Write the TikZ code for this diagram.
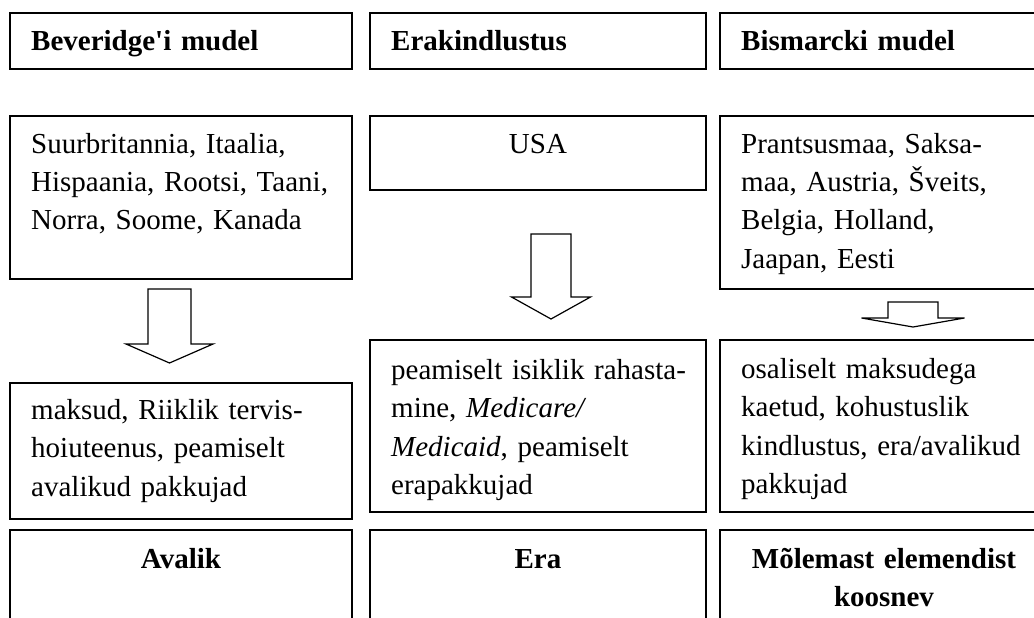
\documentclass[tikz,border=0pt]{standalone}
\usepackage{fontspec}
\newfontfamily\tablefont{Liberation Serif}
\usepackage{tikz}
\usetikzlibrary{positioning, calc}

% hollow block arrow pointing down:
% #1 centre x, #2 top, #3 shaft bottom, #4 tip, #5 half shaft, #6 half head
\newcommand{\blockdown}[6]{%
  \draw[blockarrow] (#1-#5,#2) -- (#1+#5,#2) -- (#1+#5,#3) -- (#1+#6,#3)
    -- (#1,#4) -- (#1-#6,#3) -- (#1-#5,#3) -- cycle;}

\tikzset{
  frame/.style={draw, line width=1.6pt, anchor=north west, inner sep=0pt, outer sep=0pt},
  txt/.style={font=\tablefont\fontsize{29}{38.5}\selectfont, inner sep=0pt,
    text width=330pt, align=left, anchor=base west},
  ctxt/.style={font=\tablefont\fontsize{29}{38.5}\selectfont\bfseries, inner sep=0pt,
    text width=320pt, align=center, anchor=base},
  blockarrow/.style={draw, line width=1.2pt, fill=white, line join=miter}
}

\begin{document}
\begin{tikzpicture}[x=1pt, y=-1pt]
  \clip (0,0) rectangle (1034,618);
  \fill[white] (0,0) rectangle (1034,618);

  % header row
  \node[frame, minimum width=342pt, minimum height=56pt] (bevHead) at (10,13) {};
  \node[frame, minimum width=336pt, minimum height=56pt] (eraHead) at (370,13) {};
  \node[frame, minimum width=328pt, minimum height=56pt] (bisHead) at (720,13) {};
  \node[txt, font=\tablefont\fontsize{29}{38.5}\selectfont\bfseries] (bevTitle) at (31,51) {Beveridge'i mudel};
  \node[txt, font=\tablefont\fontsize{29}{38.5}\selectfont\bfseries] (eraTitle) at (391,51) {Erakindlustus};
  \node[txt, font=\tablefont\fontsize{29}{38.5}\selectfont\bfseries] (bisTitle) at (741,51) {Bismarcki mudel};

  % countries
  \node[frame, minimum width=342pt, minimum height=163pt] (bevLand) at (10,116) {};
  \node[frame, minimum width=336pt, minimum height=74pt] (eraLand) at (370,116) {};
  \node[frame, minimum width=328pt, minimum height=173pt] (bisLand) at (720,116) {};
  \node[txt] (bevLandText) at (31,153) {Suurbritannia, Itaalia,\\ Hispaania, Rootsi, Taani,\\ Norra, Soome, Kanada};
  \node[ctxt, font=\tablefont\fontsize{29}{38.5}\selectfont] (eraLandText) at (538,153) {USA};
  \node[txt] (bisLandText) at (741,153) {Prantsusmaa, Saksa-\\ maa, Austria, Šveits,\\ Belgia, Holland,\\ Jaapan, Eesti};

  % arrows
  \blockdown{169.5}{289}{344}{363}{21.5}{43.5}
  \blockdown{551}{234}{297}{319}{20}{39.5}
  \blockdown{913}{302}{318}{327}{25}{51.5}

  % financing
  \node[frame, minimum width=342pt, minimum height=136pt] (bevFin) at (10,383) {};
  \node[frame, minimum width=336pt, minimum height=172pt] (eraFin) at (370,340) {};
  \node[frame, minimum width=328pt, minimum height=172pt] (bisFin) at (720,340) {};
  \node[txt] (bevFinText) at (31,419) {maksud, Riiklik tervis-\\ hoiuteenus, peamiselt\\ avalikud pakkujad};
  \node[txt] (eraFinText) at (391,379) {peamiselt isiklik rahasta-\\ mine, \textit{Medicare/}\\ \textit{Medicaid}, peamiselt\\ erapakkujad};
  \node[txt] (bisFinText) at (741,378) {osaliselt maksudega\\ kaetud, kohustuslik\\ kindlustus, era/avalikud\\ pakkujad};

  % result
  \node[frame, minimum width=342pt, minimum height=110pt] (bevType) at (10,530) {};
  \node[frame, minimum width=336pt, minimum height=110pt] (eraType) at (370,530) {};
  \node[frame, minimum width=328pt, minimum height=110pt] (bisType) at (720,530) {};
  \node[ctxt] (bevTypeText) at (181,568) {Avalik};
  \node[ctxt] (eraTypeText) at (538,568) {Era};
  \node[ctxt] (bisTypeText) at (884,568) {Mõlemast elemendist\\ koosnev};
\end{tikzpicture}
\end{document}
